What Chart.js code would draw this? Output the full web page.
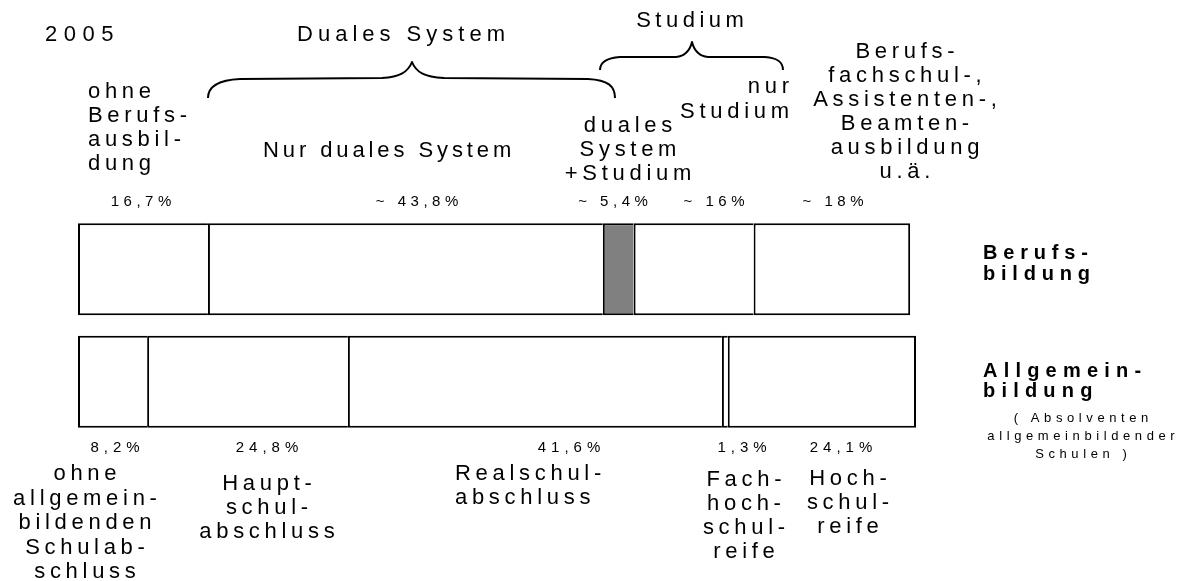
<!DOCTYPE html>
<html><head><meta charset="utf-8">
<script src="https://cdn.jsdelivr.net/npm/chart.js@4.4.0/dist/chart.umd.min.js"></script>
<style>html,body{margin:0;padding:0;background:#fff}#wrap{width:1189px;height:581px;position:relative}</style>
</head><body><div id="wrap"><canvas id="c" width="1189" height="581"></canvas></div>
<script>
// ---- data ----
const barNames = ['Berufsbildung', 'Allgemeinbildung'];
// segment widths as drawn in the picture (share of the bar length)
const berufsSegments = [15.6, 47.4, 3.7, 14.4, 18.8];
const allgemeinSegments = [8.3, 24.1, 44.9, 0.7, 22.6];
// printed percentage labels
const berufsLabels = ['16,7%', '~ 43,8%', '~ 5,4%', '~ 16%', '~ 18%'];
const allgemeinLabels = ['8,2%', '24,8%', '41,6%', '1,3%', '24,1%'];
const berufsCategories = [
  ['ohne', 'Berufs-', 'ausbil-', 'dung'],
  ['Nur duales System'],
  ['duales', 'System', '+Studium'],
  ['nur', 'Studium'],
  ['Berufs-', 'fachschul-,', 'Assistenten-,', 'Beamten-', 'ausbildung', 'u.ä.']
];
const allgemeinCategories = [
  ['ohne', 'allgemein-', 'bildenden', 'Schulab-', 'schluss'],
  ['Haupt-', 'schul-', 'abschluss'],
  ['Realschul-', 'abschluss'],
  ['Fach-', 'hoch-', 'schul-', 'reife'],
  ['Hoch-', 'schul-', 'reife']
];
const yearLabel = '2005';
const groupLabels = ['Duales System', 'Studium'];
const rowTitles = [['Berufs-', 'bildung'], ['Allgemein-', 'bildung']];
const rowNote = ['( Absolventen', 'allgemeinbildender', 'Schulen )'];
const grayIndex = 2;

// ---- helpers ----
const FONT = '"Liberation Sans", Arial, sans-serif';
function spacedWidth(ctx, s, sp) {
  let w = 0;
  for (const ch of s) w += ctx.measureText(ch).width;
  return w + sp * (Math.max(0, [...s].length - 1));
}
function drawSpaced(ctx, s, x, y, align, sp) {
  const w = spacedWidth(ctx, s, sp);
  let cx = align === 'center' ? x - w / 2 : align === 'right' ? x - w : x;
  ctx.textAlign = 'left';
  for (const ch of s) { ctx.fillText(ch, cx, y); cx += ctx.measureText(ch).width + sp; }
}
function drawBlock(ctx, lines, x, y, lh, align, font, sp) {
  ctx.font = font;
  lines.forEach((l, i) => drawSpaced(ctx, l, x, y + i * lh, align, sp));
}

const textPlugin = {
  id: 'texts',
  afterDraw(chart) {
    const ctx = chart.ctx;
    ctx.save();
    ctx.fillStyle = '#000';
    ctx.textBaseline = 'alphabetic';
    const big = '22px ' + FONT;
    const small = '15px ' + FONT;
    const sp = 4.7;
    drawBlock(ctx, [yearLabel], 45, 41, 0, 'left', big, 6.5);
    drawBlock(ctx, [groupLabels[0]], 401, 41, 0, 'center', big, 5);
    drawBlock(ctx, [groupLabels[1]], 690, 27, 0, 'center', big, 4.5);

    // top category labels
    drawBlock(ctx, berufsCategories[0], 88, 98, 24, 'left', big, sp);
    drawBlock(ctx, berufsCategories[1], 263, 157, 24, 'left', big, 3.9);
    drawBlock(ctx, berufsCategories[2], 628, 132, 24, 'center', big, sp);
    drawBlock(ctx, berufsCategories[3], 789, 93, 25, 'right', big, sp);
    drawBlock(ctx, berufsCategories[4], 905, 58, 24, 'center', big, sp);

    // percentage labels
    const topX = [141, 417, 613, 714, 833];
    ctx.font = small;
    berufsLabels.forEach((l, i) => drawSpaced(ctx, l, topX[i], 206, 'center', 4.5));
    const botX = [115, 267, 569, 742, 841];
    allgemeinLabels.forEach((l, i) => drawSpaced(ctx, l, botX[i], 452, 'center', 5));

    // bottom category labels
    drawBlock(ctx, allgemeinCategories[0], 85, 480, 24.5, 'center', big, sp);
    drawBlock(ctx, allgemeinCategories[1], 267, 490, 24, 'center', big, sp);
    drawBlock(ctx, allgemeinCategories[2], 455, 480, 24, 'left', big, sp);
    drawBlock(ctx, allgemeinCategories[3], 744, 486, 24, 'center', big, sp);
    drawBlock(ctx, allgemeinCategories[4], 848, 485, 24, 'center', big, sp);

    // row titles
    const bold = 'bold 20px ' + FONT;
    drawBlock(ctx, rowTitles[0], 983, 259, 21, 'left', bold, 5.8);
    drawBlock(ctx, rowTitles[1], 983, 377, 20, 'left', bold, 6.2);
    drawBlock(ctx, rowNote, 1081, 422, 18, 'center', '13px ' + FONT, 4.6);

    // braces
    ctx.strokeStyle = '#000';
    ctx.lineWidth = 2;
    ctx.lineJoin = 'round';
    ctx.beginPath();
    ctx.moveTo(208, 98);
    ctx.bezierCurveTo(208, 86, 220, 80, 240, 79);
    ctx.lineTo(382, 78);
    ctx.bezierCurveTo(400, 77, 408, 72, 412, 62);
    ctx.bezierCurveTo(416, 72, 424, 77, 444, 78);
    ctx.lineTo(588, 79);
    ctx.bezierCurveTo(608, 80, 615, 86, 615, 98);
    ctx.stroke();

    ctx.beginPath();
    ctx.moveTo(600, 70);
    ctx.bezierCurveTo(600, 62, 606, 58, 620, 57);
    ctx.lineTo(676, 57);
    ctx.bezierCurveTo(686, 56, 690, 50, 692, 42);
    ctx.bezierCurveTo(694, 50, 698, 56, 708, 57);
    ctx.lineTo(765, 57);
    ctx.bezierCurveTo(778, 58, 783, 62, 783, 70);
    ctx.stroke();
    ctx.restore();
  }
};

const lastSeg = berufsSegments.length - 1;
const datasets = berufsSegments.map((v, i) => ({
  label: 'seg' + i,
  data: [berufsSegments[i], allgemeinSegments[i]],
  backgroundColor: ctx => (ctx.dataIndex === 0 && i === grayIndex) ? '#808080' : '#ffffff',
  borderColor: '#000000',
  borderWidth: { top: 2, bottom: 2, left: 2, right: i === lastSeg ? 2 : 0 },
  borderSkipped: false,
  barThickness: 92,
  inflateAmount: 0
}));

new Chart(document.getElementById('c'), {
  type: 'bar',
  data: { labels: barNames, datasets },
  options: {
    indexAxis: 'y',
    responsive: false,
    animation: false,
    devicePixelRatio: 1,
    layout: { padding: { left: 78, right: 273, top: 213, bottom: 143 } },
    plugins: { legend: { display: false }, tooltip: { enabled: false } },
    scales: {
      x: { stacked: true, min: 0, max: 100.6, display: false },
      y: { stacked: true, display: false }
    }
  },
  plugins: [textPlugin]
});
</script>
</body></html>
